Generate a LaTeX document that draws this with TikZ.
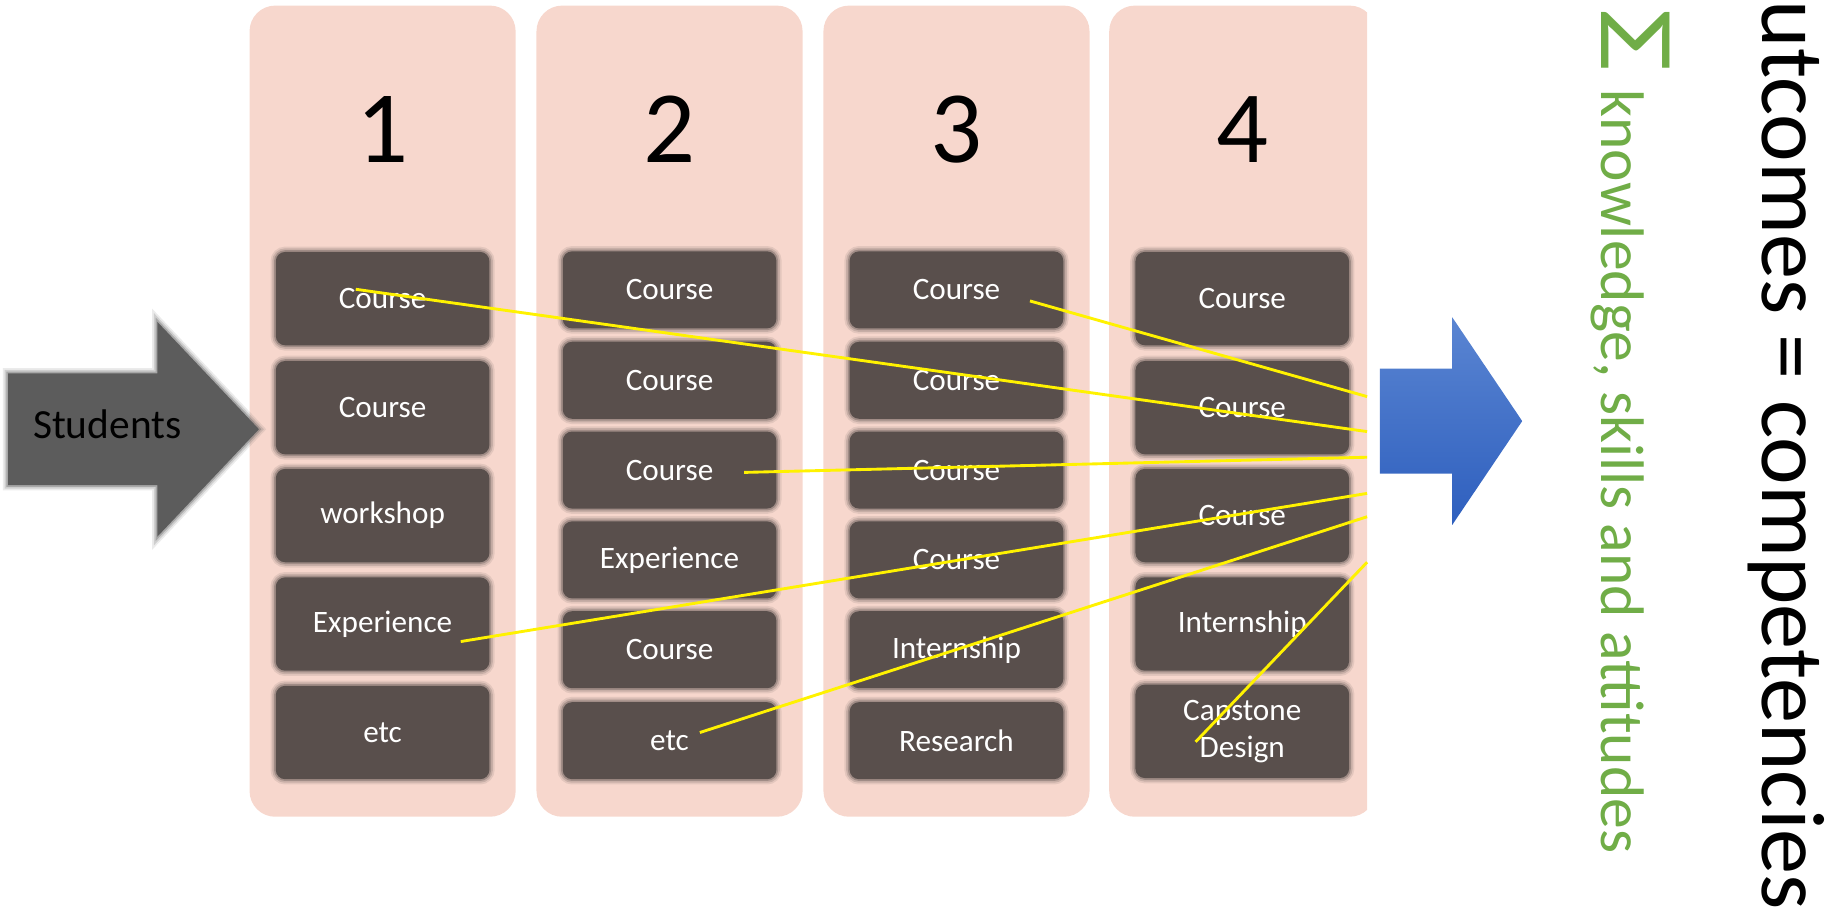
\documentclass[tikz,border=0pt]{standalone}
\usepackage{fontspec}
\setmainfont{Carlito}
\usetikzlibrary{positioning}

\definecolor{colbg}{RGB}{247,215,205}
\definecolor{boxbg}{RGB}{89,79,76}
\definecolor{arrowgray}{RGB}{92,92,92}
\definecolor{bluetop}{RGB}{90,133,210}
\definecolor{bluebot}{RGB}{46,95,190}
\definecolor{kgreen}{RGB}{112,173,71}

\tikzset{
  soft/.style={preaction={draw=#1, draw opacity=0.12, line width=0.09cm},
    preaction={draw=#1, draw opacity=0.2, line width=0.06cm},
    preaction={draw=#1, draw opacity=0.35, line width=0.03cm}},
  column/.style={fill=colbg, rounded corners=0.22cm, minimum width=2.28cm, minimum height=6.95cm},
  year/.style={font=\fontsize{25}{30}\selectfont},
  box/.style={fill=boxbg, soft=boxbg, rounded corners=0.08cm, minimum width=1.83cm, text=white,
    font=\fontsize{7.6}{9.1}\selectfont, align=center, inner sep=0pt},
  tall/.style={box, minimum height=0.8cm},
  short/.style={box, minimum height=0.66cm},
  link/.style={yellow, line width=0.7pt},
}

\begin{document}
\begin{tikzpicture}[x=0.01cm, y=-0.01cm]
\useasboundingbox (0,0) rectangle (1568,788);

%columns
\node[column] (col1) at (328,352.5) {};
\node[column] (col2) at (574,352.5) {};
\node[column] (col3) at (820,352.5) {};
\begin{scope}
\clip (940,0) rectangle (1172,788);
\node[column] (col4) at (1065,352.5) {};
\end{scope}

%years
\node[year, anchor=base] (n1) at (328,139) {1};
\node[year, anchor=base] (n2) at (574,139) {2};
\node[year, anchor=base] (n3) at (820,139) {3};
\node[year, anchor=base] (n4) at (1065,139) {4};

%first year
\node[tall] (a1) at (328,256) {Course};
\node[tall] (a2) at (328,349.5) {Course};
\node[tall] (a3) at (328,442) {workshop};
\node[tall] (a4) at (328,535) {Experience};
\node[tall] (a5) at (328,628) {etc};

%second year
\node[short] (b1) at (574,248.5) {Course};
\node[short] (b2) at (574,326) {Course};
\node[short] (b3) at (574,403) {Course};
\node[short] (b4) at (574,480) {Experience};
\node[short] (b5) at (574,557) {Course};
\node[short] (b6) at (574,635) {etc};

%third year
\node[short] (c1) at (820,248.5) {Course};
\node[short] (c2) at (820,326) {Course};
\node[short] (c3) at (820,403) {Course};
\node[short] (c4) at (820,480) {Course};
\node[short] (c5) at (820,557) {Internship};
\node[short] (c6) at (820,635) {Research};

%fourth year
\node[tall] (d1) at (1065,256) {Course};
\node[tall] (d2) at (1065,349.5) {Course};
\node[tall] (d3) at (1065,442) {Course};
\node[tall] (d4) at (1065,535) {Internship};
\node[tall] (d5) at (1065,627) {Capstone\\Design};

%input arrow
\fill[arrowgray, soft=arrowgray]
  (7,320) -- (135,320) -- (135,276) -- (222,368) -- (135,460) -- (135,416) -- (7,416) -- cycle;
\node[font=\fontsize{10.1}{12}\selectfont, anchor=base] (students) at (92,376) {Students};

%output arrow
\shade[top color=bluetop, bottom color=bluebot]
  (1183,316) -- (1245,316) -- (1245,272) -- (1305,361) -- (1245,450) -- (1245,406) -- (1183,406) -- cycle;

%links
\coordinate (e1) at (1172,370);
\coordinate (e2) at (1172,340);
\coordinate (e3) at (1172,392);
\coordinate (e4) at (1172,423);
\coordinate (e5) at (1172,443);
\coordinate (e6) at (1172,482);
\draw[link] ([shift={(-23,-8)}]a1.center) -- (e1);
\draw[link] ([shift={(63,9.5)}]c1.center) -- (e2);
\draw[link] ([shift={(64,2)}]b3.center) -- (e3);
\draw[link] ([shift={(67,15)}]a4.center) -- (e4);
\draw[link] ([shift={(26,-7)}]b6.center) -- (e5);
\draw[link] ([shift={(-40,9)}]d5.center) -- (e6);

%outcomes
\node[rotate=-90, anchor=base west, inner sep=0pt, font=\fontsize{22}{26}\selectfont] (outcome) at (1511,0) {utcomes = competencies};
\node[rotate=-90, anchor=base west, inner sep=0pt, text=kgreen, font=\fontsize{26}{30}\selectfont] (sigma) at (1373,7) {\scalebox{1.3}[1]{Σ}};
\node[rotate=-90, anchor=base west, inner sep=0pt, text=kgreen, font=\fontsize{15}{18}\selectfont] (ksa) at (1373,76) {knowledge, skills and attitudes};

\end{tikzpicture}
\end{document}
